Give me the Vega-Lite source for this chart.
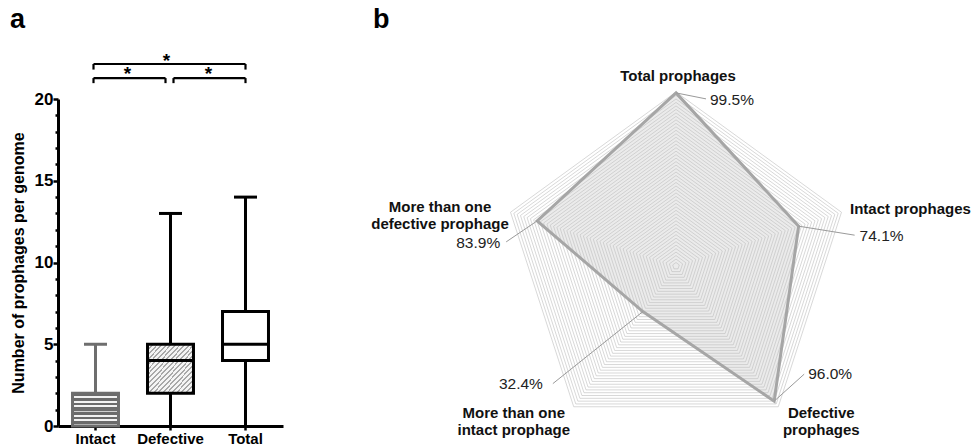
{
  "$schema": "https://vega.github.io/schema/vega-lite/v6.json",
  "padding": {"left": 10, "top": 6, "right": 0, "bottom": 0},
  "spacing": 88,
  "config": {
    "view": {"stroke": null},
    "font": "Liberation Sans",
    "text": {"font": "Liberation Sans"}
  },
  "datasets": {
    "box": [
      {"group": "Intact", "min": 0, "q1": 0, "median": 1, "q3": 2, "max": 5},
      {"group": "Defective", "min": 0, "q1": 2, "median": 4, "q3": 5, "max": 13},
      {"group": "Total", "min": 0, "q1": 4, "median": 5, "q3": 7, "max": 14}
    ],
    "radar": [
      {"category": "Total prophages", "label": "Total prophages", "k": 0, "value": 0.995},
      {"category": "Intact prophages", "label": "Intact prophages", "k": 1, "value": 0.741},
      {"category": "Defective prophages", "label": "Defective\nprophages", "k": 2, "value": 0.96},
      {"category": "More than one intact prophage", "label": "More than one\nintact prophage", "k": 3, "value": 0.324},
      {"category": "More than one defective prophage", "label": "More than one\ndefective prophage", "k": 4, "value": 0.839}
    ],
    "gridLevels": [
      {"r": 0.02}, {"r": 0.04}, {"r": 0.06}, {"r": 0.08}, {"r": 0.1},
      {"r": 0.12}, {"r": 0.14}, {"r": 0.16}, {"r": 0.18}, {"r": 0.2},
      {"r": 0.22}, {"r": 0.24}, {"r": 0.26}, {"r": 0.28}, {"r": 0.3},
      {"r": 0.32}, {"r": 0.34}, {"r": 0.36}, {"r": 0.38}, {"r": 0.4},
      {"r": 0.42}, {"r": 0.44}, {"r": 0.46}, {"r": 0.48}, {"r": 0.5},
      {"r": 0.52}, {"r": 0.54}, {"r": 0.56}, {"r": 0.58}, {"r": 0.6},
      {"r": 0.62}, {"r": 0.64}, {"r": 0.66}, {"r": 0.68}, {"r": 0.7},
      {"r": 0.72}, {"r": 0.74}, {"r": 0.76}, {"r": 0.78}, {"r": 0.8},
      {"r": 0.82}, {"r": 0.84}, {"r": 0.86}, {"r": 0.88}, {"r": 0.9},
      {"r": 0.92}, {"r": 0.94}, {"r": 0.96}, {"r": 0.98}, {"r": 1.0}
    ],
    "ringLabels": [
      {"r": 0}, {"r": 0.1}, {"r": 0.2}, {"r": 0.3}, {"r": 0.4}, {"r": 0.5},
      {"r": 0.6}, {"r": 0.7}, {"r": 0.8}, {"r": 0.9}, {"r": 1.0}
    ]
  },
  "hconcat": [
    {
      "width": 225,
      "height": 327,
      "title": {"text": "a", "anchor": "start", "frame": "bounds", "fontSize": 27, "fontWeight": "bold", "color": "#000", "offset": 18},
      "layer": [
        {
          "data": {"name": "box"},
          "mark": {"type": "rule", "strokeWidth": 3},
          "encoding": {
            "x": {
              "field": "group", "type": "nominal", "sort": null,
              "scale": {"type": "band", "domain": ["Intact", "Defective", "Total"], "paddingInner": 0.387, "paddingOuter": 0.1935},
              "axis": {"title": null, "labelAngle": 0, "domainColor": "#000", "domainWidth": 3, "tickColor": "#000", "tickWidth": 2.5, "tickSize": 4, "labelFontSize": 15, "labelFontWeight": "bold", "labelColor": "#000", "labelPadding": 1}
            },
            "y": {
              "field": "min", "type": "quantitative",
              "scale": {"domain": [0, 20], "nice": false, "zero": true},
              "axis": {
                "title": "Number of prophages per genome",
                "values": [0, 1, 2, 3, 4, 5, 6, 7, 8, 9, 10, 11, 12, 13, 14, 15, 16, 17, 18, 19, 20],
                "tickCount": 30,
                "format": "d",
                "labelExpr": "datum.value % 5 === 0 ? datum.label : ''",
                "labelOverlap": false,
                "tickSize": {"condition": {"test": "datum.value % 5 === 0", "value": 5}, "value": 3},
                "tickWidth": 2.5, "tickColor": "#000",
                "domainColor": "#000", "domainWidth": 3,
                "labelFontSize": 17, "labelFontWeight": "bold", "labelColor": "#000", "labelPadding": 0,
                "titleFontSize": 16, "titleFontWeight": "bold", "titleColor": "#000", "titlePadding": 8,
                "grid": false
              }
            },
            "y2": {"field": "max"},
            "color": {"field": "group", "type": "nominal", "scale": {"domain": ["Intact", "Defective", "Total"], "range": ["#6e6e6e", "#000000", "#000000"]}, "legend": null}
          }
        },
        {
          "data": {"name": "box"},
          "mark": {"type": "tick", "thickness": 3, "size": 23, "opacity": 1},
          "encoding": {
            "x": {"field": "group", "type": "nominal", "scale": {"type": "band", "domain": ["Intact", "Defective", "Total"], "paddingInner": 0.387, "paddingOuter": 0.1935}},
            "y": {"field": "max", "type": "quantitative", "scale": {"domain": [0, 20], "nice": false, "zero": true}},
            "color": {"field": "group", "type": "nominal", "scale": {"domain": ["Intact", "Defective", "Total"], "range": ["#6e6e6e", "#000000", "#000000"]}, "legend": null}
          }
        },
        {
          "data": {"name": "box"},
          "transform": [{"filter": "datum.group === 'Intact'"}],
          "mark": {
            "type": "bar", "stroke": "#6e6e6e", "strokeWidth": 3,
            "fill": {
              "gradient": "linear", "x1": 0, "y1": 0, "x2": 0, "y2": 1,
              "stops": [
                {"offset": 0, "color": "#6b6b6b"}, {"offset": 0.0857, "color": "#6b6b6b"}, {"offset": 0.0857, "color": "#f2f2f2"}, {"offset": 0.1429, "color": "#f2f2f2"},
                {"offset": 0.1429, "color": "#6b6b6b"}, {"offset": 0.2286, "color": "#6b6b6b"}, {"offset": 0.2286, "color": "#f2f2f2"}, {"offset": 0.2857, "color": "#f2f2f2"},
                {"offset": 0.2857, "color": "#6b6b6b"}, {"offset": 0.3714, "color": "#6b6b6b"}, {"offset": 0.3714, "color": "#f2f2f2"}, {"offset": 0.4286, "color": "#f2f2f2"},
                {"offset": 0.4286, "color": "#6b6b6b"}, {"offset": 0.5143, "color": "#6b6b6b"}, {"offset": 0.5143, "color": "#f2f2f2"}, {"offset": 0.5714, "color": "#f2f2f2"},
                {"offset": 0.5714, "color": "#6b6b6b"}, {"offset": 0.6571, "color": "#6b6b6b"}, {"offset": 0.6571, "color": "#f2f2f2"}, {"offset": 0.7143, "color": "#f2f2f2"},
                {"offset": 0.7143, "color": "#6b6b6b"}, {"offset": 0.8, "color": "#6b6b6b"}, {"offset": 0.8, "color": "#f2f2f2"}, {"offset": 0.8571, "color": "#f2f2f2"},
                {"offset": 0.8571, "color": "#6b6b6b"}, {"offset": 0.9429, "color": "#6b6b6b"}, {"offset": 0.9429, "color": "#f2f2f2"}, {"offset": 1, "color": "#f2f2f2"}
              ]
            }
          },
          "encoding": {
            "x": {"field": "group", "type": "nominal", "scale": {"type": "band", "domain": ["Intact", "Defective", "Total"], "paddingInner": 0.387, "paddingOuter": 0.1935}},
            "y": {"field": "q1", "type": "quantitative", "scale": {"domain": [0, 20], "nice": false, "zero": true}},
            "y2": {"field": "q3"}
          }
        },
        {
          "data": {"name": "box"},
          "transform": [{"filter": "datum.group === 'Defective'"}],
          "mark": {
            "type": "bar", "stroke": "#000", "strokeWidth": 3,
            "fill": {
              "gradient": "linear", "x1": 0, "y1": 0, "x2": 1, "y2": 1,
              "stops": [
                {"offset": 0, "color": "#a8a8a8"}, {"offset": 0.02, "color": "#a8a8a8"}, {"offset": 0.02, "color": "#f4f4f4"}, {"offset": 0.05, "color": "#f4f4f4"},
                {"offset": 0.05, "color": "#a8a8a8"}, {"offset": 0.07, "color": "#a8a8a8"}, {"offset": 0.07, "color": "#f4f4f4"}, {"offset": 0.1, "color": "#f4f4f4"},
                {"offset": 0.1, "color": "#a8a8a8"}, {"offset": 0.12, "color": "#a8a8a8"}, {"offset": 0.12, "color": "#f4f4f4"}, {"offset": 0.15, "color": "#f4f4f4"},
                {"offset": 0.15, "color": "#a8a8a8"}, {"offset": 0.17, "color": "#a8a8a8"}, {"offset": 0.17, "color": "#f4f4f4"}, {"offset": 0.2, "color": "#f4f4f4"},
                {"offset": 0.2, "color": "#a8a8a8"}, {"offset": 0.22, "color": "#a8a8a8"}, {"offset": 0.22, "color": "#f4f4f4"}, {"offset": 0.25, "color": "#f4f4f4"},
                {"offset": 0.25, "color": "#a8a8a8"}, {"offset": 0.27, "color": "#a8a8a8"}, {"offset": 0.27, "color": "#f4f4f4"}, {"offset": 0.3, "color": "#f4f4f4"},
                {"offset": 0.3, "color": "#a8a8a8"}, {"offset": 0.32, "color": "#a8a8a8"}, {"offset": 0.32, "color": "#f4f4f4"}, {"offset": 0.35, "color": "#f4f4f4"},
                {"offset": 0.35, "color": "#a8a8a8"}, {"offset": 0.37, "color": "#a8a8a8"}, {"offset": 0.37, "color": "#f4f4f4"}, {"offset": 0.4, "color": "#f4f4f4"},
                {"offset": 0.4, "color": "#a8a8a8"}, {"offset": 0.42, "color": "#a8a8a8"}, {"offset": 0.42, "color": "#f4f4f4"}, {"offset": 0.45, "color": "#f4f4f4"},
                {"offset": 0.45, "color": "#a8a8a8"}, {"offset": 0.47, "color": "#a8a8a8"}, {"offset": 0.47, "color": "#f4f4f4"}, {"offset": 0.5, "color": "#f4f4f4"},
                {"offset": 0.5, "color": "#a8a8a8"}, {"offset": 0.52, "color": "#a8a8a8"}, {"offset": 0.52, "color": "#f4f4f4"}, {"offset": 0.55, "color": "#f4f4f4"},
                {"offset": 0.55, "color": "#a8a8a8"}, {"offset": 0.57, "color": "#a8a8a8"}, {"offset": 0.57, "color": "#f4f4f4"}, {"offset": 0.6, "color": "#f4f4f4"},
                {"offset": 0.6, "color": "#a8a8a8"}, {"offset": 0.62, "color": "#a8a8a8"}, {"offset": 0.62, "color": "#f4f4f4"}, {"offset": 0.65, "color": "#f4f4f4"},
                {"offset": 0.65, "color": "#a8a8a8"}, {"offset": 0.67, "color": "#a8a8a8"}, {"offset": 0.67, "color": "#f4f4f4"}, {"offset": 0.7, "color": "#f4f4f4"},
                {"offset": 0.7, "color": "#a8a8a8"}, {"offset": 0.72, "color": "#a8a8a8"}, {"offset": 0.72, "color": "#f4f4f4"}, {"offset": 0.75, "color": "#f4f4f4"},
                {"offset": 0.75, "color": "#a8a8a8"}, {"offset": 0.77, "color": "#a8a8a8"}, {"offset": 0.77, "color": "#f4f4f4"}, {"offset": 0.8, "color": "#f4f4f4"},
                {"offset": 0.8, "color": "#a8a8a8"}, {"offset": 0.82, "color": "#a8a8a8"}, {"offset": 0.82, "color": "#f4f4f4"}, {"offset": 0.85, "color": "#f4f4f4"},
                {"offset": 0.85, "color": "#a8a8a8"}, {"offset": 0.87, "color": "#a8a8a8"}, {"offset": 0.87, "color": "#f4f4f4"}, {"offset": 0.9, "color": "#f4f4f4"},
                {"offset": 0.9, "color": "#a8a8a8"}, {"offset": 0.92, "color": "#a8a8a8"}, {"offset": 0.92, "color": "#f4f4f4"}, {"offset": 0.95, "color": "#f4f4f4"},
                {"offset": 0.95, "color": "#a8a8a8"}, {"offset": 0.97, "color": "#a8a8a8"}, {"offset": 0.97, "color": "#f4f4f4"}, {"offset": 1, "color": "#f4f4f4"}
              ]
            }
          },
          "encoding": {
            "x": {"field": "group", "type": "nominal", "scale": {"type": "band", "domain": ["Intact", "Defective", "Total"], "paddingInner": 0.387, "paddingOuter": 0.1935}},
            "y": {"field": "q1", "type": "quantitative", "scale": {"domain": [0, 20], "nice": false, "zero": true}},
            "y2": {"field": "q3"}
          }
        },
        {
          "data": {"name": "box"},
          "transform": [{"filter": "datum.group === 'Total'"}],
          "mark": {"type": "bar", "fill": "#ffffff", "stroke": "#000", "strokeWidth": 3},
          "encoding": {
            "x": {"field": "group", "type": "nominal", "scale": {"type": "band", "domain": ["Intact", "Defective", "Total"], "paddingInner": 0.387, "paddingOuter": 0.1935}},
            "y": {"field": "q1", "type": "quantitative", "scale": {"domain": [0, 20], "nice": false, "zero": true}},
            "y2": {"field": "q3"}
          }
        },
        {
          "data": {"name": "box"},
          "mark": {"type": "tick", "thickness": 3, "size": 46, "opacity": 1},
          "encoding": {
            "x": {"field": "group", "type": "nominal", "scale": {"type": "band", "domain": ["Intact", "Defective", "Total"], "paddingInner": 0.387, "paddingOuter": 0.1935}},
            "y": {"field": "median", "type": "quantitative", "scale": {"domain": [0, 20], "nice": false, "zero": true}},
            "color": {"field": "group", "type": "nominal", "scale": {"domain": ["Intact", "Defective", "Total"], "range": ["#6e6e6e", "#000000", "#000000"]}, "legend": null}
          }
        },
        {
          "data": {"values": [{"from": "Intact", "to": "Total", "sig": "*"}]},
          "layer": [
            {
              "mark": {"type": "rule", "strokeWidth": 2.2, "color": "#000", "xOffset": -2},
              "encoding": {
                "x": {"field": "from", "type": "nominal", "scale": {"type": "band", "domain": ["Intact", "Defective", "Total"], "paddingInner": 0.387, "paddingOuter": 0.1935}},
                "x2": {"field": "to"},
                "y": {"datum": 22.14, "type": "quantitative", "scale": {"domain": [0, 20], "nice": false, "zero": true}}
              }
            },
            {
              "mark": {"type": "rule", "strokeWidth": 2.2, "color": "#000", "xOffset": -2},
              "encoding": {
                "x": {"field": "from", "type": "nominal"},
                "y": {"datum": 22.14, "type": "quantitative"},
                "y2": {"datum": 21.8}
              }
            },
            {
              "mark": {"type": "rule", "strokeWidth": 2.2, "color": "#000"},
              "encoding": {
                "x": {"field": "to", "type": "nominal"},
                "y": {"datum": 22.14, "type": "quantitative"},
                "y2": {"datum": 21.8}
              }
            },
            {
              "mark": {"type": "text", "fontSize": 19, "fontWeight": "bold", "baseline": "alphabetic", "dx": 71, "dy": 3, "color": "#000"},
              "encoding": {
                "x": {"field": "from", "type": "nominal"},
                "y": {"datum": 22.14, "type": "quantitative"},
                "text": {"field": "sig"}
              }
            }
          ]
        },
        {
          "data": {"values": [{"from": "Intact", "to": "Defective", "sig": "*"}]},
          "layer": [
            {
              "mark": {"type": "rule", "strokeWidth": 2.2, "color": "#000", "xOffset": -2, "x2Offset": -5},
              "encoding": {
                "x": {"field": "from", "type": "nominal"},
                "x2": {"field": "to"},
                "y": {"datum": 21.28, "type": "quantitative"}
              }
            },
            {
              "mark": {"type": "rule", "strokeWidth": 2.2, "color": "#000", "xOffset": -2},
              "encoding": {
                "x": {"field": "from", "type": "nominal"},
                "y": {"datum": 21.28, "type": "quantitative"},
                "y2": {"datum": 20.97}
              }
            },
            {
              "mark": {"type": "rule", "strokeWidth": 2.2, "color": "#000", "xOffset": -5},
              "encoding": {
                "x": {"field": "to", "type": "nominal"},
                "y": {"datum": 21.28, "type": "quantitative"},
                "y2": {"datum": 20.97}
              }
            },
            {
              "mark": {"type": "text", "fontSize": 19, "fontWeight": "bold", "baseline": "alphabetic", "dx": 32, "dy": 2, "color": "#000"},
              "encoding": {
                "x": {"field": "from", "type": "nominal"},
                "y": {"datum": 21.28, "type": "quantitative"},
                "text": {"field": "sig"}
              }
            }
          ]
        },
        {
          "data": {"values": [{"from": "Defective", "to": "Total", "sig": "*"}]},
          "layer": [
            {
              "mark": {"type": "rule", "strokeWidth": 2.2, "color": "#000", "xOffset": 3},
              "encoding": {
                "x": {"field": "from", "type": "nominal"},
                "x2": {"field": "to"},
                "y": {"datum": 21.28, "type": "quantitative"}
              }
            },
            {
              "mark": {"type": "rule", "strokeWidth": 2.2, "color": "#000", "xOffset": 3},
              "encoding": {
                "x": {"field": "from", "type": "nominal"},
                "y": {"datum": 21.28, "type": "quantitative"},
                "y2": {"datum": 20.97}
              }
            },
            {
              "mark": {"type": "rule", "strokeWidth": 2.2, "color": "#000"},
              "encoding": {
                "x": {"field": "to", "type": "nominal"},
                "y": {"datum": 21.28, "type": "quantitative"},
                "y2": {"datum": 20.97}
              }
            },
            {
              "mark": {"type": "text", "fontSize": 19, "fontWeight": "bold", "baseline": "alphabetic", "dx": 38, "dy": 2, "color": "#000"},
              "encoding": {
                "x": {"field": "from", "type": "nominal"},
                "y": {"datum": 21.28, "type": "quantitative"},
                "text": {"field": "sig"}
              }
            }
          ]
        }
      ]
    },
    {
      "width": 602,
      "height": 348,
      "title": {"text": "b", "anchor": "start", "frame": "group", "fontSize": 27, "fontWeight": "bold", "color": "#000", "offset": 35},
      "data": {"name": "radar"},
      "transform": [
        {"calculate": "PI / 2 - datum.k * 2 * PI / 5", "as": "theta"},
        {"calculate": "datum.value * cos(datum.theta)", "as": "px"},
        {"calculate": "datum.value * sin(datum.theta)", "as": "py"},
        {"calculate": "cos(datum.theta)", "as": "vx"},
        {"calculate": "sin(datum.theta)", "as": "vy"}
      ],
      "encoding": {
        "x": {"field": "px", "type": "quantitative", "scale": {"domain": [-1.7414, 1.7184], "nice": false, "zero": false}, "axis": null},
        "y": {"field": "py", "type": "quantitative", "scale": {"domain": [-1.0402, 0.9598], "nice": false, "zero": false}, "axis": null}
      },
      "layer": [
        {
          "mark": {"type": "line", "interpolate": "linear-closed", "fill": "#ebebeb", "stroke": null, "strokeWidth": 0},
          "encoding": {"order": {"field": "k", "type": "quantitative"}}
        },
        {
          "data": {"name": "gridLevels"},
          "transform": [
            {"calculate": "[0, 1, 2, 3, 4]", "as": "k"},
            {"flatten": ["k"]},
            {"calculate": "PI / 2 - datum.k * 2 * PI / 5", "as": "theta"},
            {"calculate": "datum.r * cos(datum.theta)", "as": "px"},
            {"calculate": "datum.r * sin(datum.theta)", "as": "py"}
          ],
          "mark": {"type": "line", "interpolate": "linear-closed", "stroke": "#bdbdbd", "strokeWidth": 0.6},
          "encoding": {
            "detail": {"field": "r", "type": "nominal"},
            "order": {"field": "k", "type": "quantitative"}
          }
        },
        {
          "mark": {"type": "line", "interpolate": "linear-closed", "stroke": "#a6a6a6", "strokeWidth": 3},
          "encoding": {"order": {"field": "k", "type": "quantitative"}}
        },
        {
          "data": {"name": "ringLabels"},
          "mark": {"type": "text", "align": "right", "baseline": "middle", "dx": -14, "fontSize": 12, "color": "#333"},
          "encoding": {
            "x": {"datum": 0, "type": "quantitative"},
            "y": {"field": "r", "type": "quantitative"},
            "text": {"field": "r", "type": "quantitative", "format": ".1%"}
          }
        },
        {
          "transform": [{"filter": "datum.k === 0"}],
          "mark": {"type": "rule", "stroke": "#9a9a9a", "strokeWidth": 1, "x2Offset": 30, "y2Offset": 6},
          "encoding": {"x2": {"field": "px"}, "y2": {"field": "py"}}
        },
        {
          "transform": [{"filter": "datum.k === 1"}],
          "mark": {"type": "rule", "stroke": "#9a9a9a", "strokeWidth": 1, "x2Offset": 56, "y2Offset": 9},
          "encoding": {"x2": {"field": "px"}, "y2": {"field": "py"}}
        },
        {
          "transform": [{"filter": "datum.k === 2"}],
          "mark": {"type": "rule", "stroke": "#9a9a9a", "strokeWidth": 1, "x2Offset": 30, "y2Offset": -27},
          "encoding": {"x2": {"field": "px"}, "y2": {"field": "py"}}
        },
        {
          "transform": [{"filter": "datum.k === 3"}],
          "mark": {"type": "rule", "stroke": "#9a9a9a", "strokeWidth": 1, "x2Offset": -90, "y2Offset": 72},
          "encoding": {"x2": {"field": "px"}, "y2": {"field": "py"}}
        },
        {
          "transform": [{"filter": "datum.k === 4"}],
          "mark": {"type": "rule", "stroke": "#9a9a9a", "strokeWidth": 1, "x2Offset": -31, "y2Offset": 21},
          "encoding": {"x2": {"field": "px"}, "y2": {"field": "py"}}
        },
        {
          "transform": [{"filter": "datum.k === 0"}],
          "mark": {"type": "text", "align": "left", "baseline": "middle", "dx": 34, "dy": 7, "fontSize": 15.5, "color": "#222"},
          "encoding": {"text": {"field": "value", "type": "quantitative", "format": ".1%"}}
        },
        {
          "transform": [{"filter": "datum.k === 1"}],
          "mark": {"type": "text", "align": "left", "baseline": "middle", "dx": 61, "dy": 10, "fontSize": 15.5, "color": "#222"},
          "encoding": {"text": {"field": "value", "type": "quantitative", "format": ".1%"}}
        },
        {
          "transform": [{"filter": "datum.k === 2"}],
          "mark": {"type": "text", "align": "left", "baseline": "middle", "dx": 34, "dy": -27, "fontSize": 15.5, "color": "#222"},
          "encoding": {"text": {"field": "value", "type": "quantitative", "format": ".1%"}}
        },
        {
          "transform": [{"filter": "datum.k === 3"}],
          "mark": {"type": "text", "align": "right", "baseline": "middle", "dx": -100, "dy": 72, "fontSize": 15.5, "color": "#222"},
          "encoding": {"text": {"field": "value", "type": "quantitative", "format": ".1%"}}
        },
        {
          "transform": [{"filter": "datum.k === 4"}],
          "mark": {"type": "text", "align": "right", "baseline": "middle", "dx": -37, "dy": 22, "fontSize": 15.5, "color": "#222"},
          "encoding": {"text": {"field": "value", "type": "quantitative", "format": ".1%"}}
        },
        {
          "transform": [{"filter": "datum.k === 0"}],
          "mark": {"type": "text", "align": "center", "baseline": "middle", "dx": 2, "dy": -16, "fontSize": 15, "fontWeight": "bold", "color": "#111", "lineBreak": "\n", "lineHeight": 17},
          "encoding": {
            "x": {"field": "vx", "type": "quantitative"},
            "y": {"field": "vy", "type": "quantitative"},
            "text": {"field": "label"}
          }
        },
        {
          "transform": [{"filter": "datum.k === 1"}],
          "mark": {"type": "text", "align": "left", "baseline": "middle", "dx": 8.5, "dy": -3, "fontSize": 15, "fontWeight": "bold", "color": "#111", "lineBreak": "\n", "lineHeight": 17},
          "encoding": {
            "x": {"field": "vx", "type": "quantitative"},
            "y": {"field": "vy", "type": "quantitative"},
            "text": {"field": "label"}
          }
        },
        {
          "transform": [{"filter": "datum.k === 2"}],
          "mark": {"type": "text", "align": "center", "baseline": "middle", "dx": 43, "dy": 6, "fontSize": 15, "fontWeight": "bold", "color": "#111", "lineBreak": "\n", "lineHeight": 17},
          "encoding": {
            "x": {"field": "vx", "type": "quantitative"},
            "y": {"field": "vy", "type": "quantitative"},
            "text": {"field": "label"}
          }
        },
        {
          "transform": [{"filter": "datum.k === 3"}],
          "mark": {"type": "text", "align": "center", "baseline": "middle", "dx": -60, "dy": 6, "fontSize": 15, "fontWeight": "bold", "color": "#111", "lineBreak": "\n", "lineHeight": 17},
          "encoding": {
            "x": {"field": "vx", "type": "quantitative"},
            "y": {"field": "vy", "type": "quantitative"},
            "text": {"field": "label"}
          }
        },
        {
          "transform": [{"filter": "datum.k === 4"}],
          "mark": {"type": "text", "align": "center", "baseline": "middle", "dx": -70.5, "dy": -5, "fontSize": 15, "fontWeight": "bold", "color": "#111", "lineBreak": "\n", "lineHeight": 17},
          "encoding": {
            "x": {"field": "vx", "type": "quantitative"},
            "y": {"field": "vy", "type": "quantitative"},
            "text": {"field": "label"}
          }
        }
      ]
    }
  ]
}
